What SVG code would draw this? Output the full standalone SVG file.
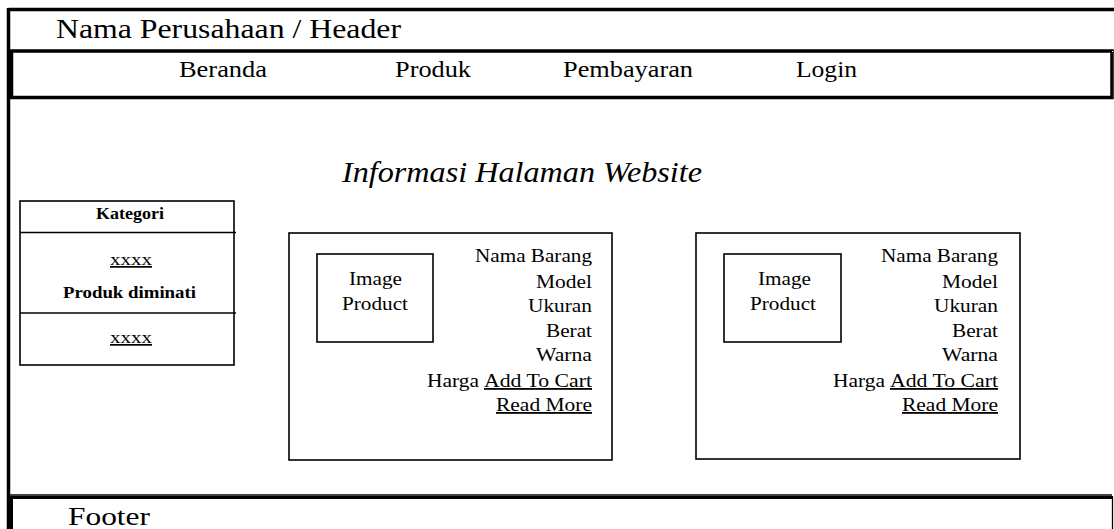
<svg xmlns="http://www.w3.org/2000/svg" width="1114" height="529" viewBox="0 0 1114 529">
<style>
text{font-family:"Times New Roman","Liberation Serif",Times,serif;fill:#000}
.box{fill:none;stroke:#000;stroke-width:1.6}
.u{text-decoration:underline}
</style>
<rect width="1114" height="529" fill="#fff"/>
<g id="frame">
<line x1="8.5" y1="9.5" x2="1114" y2="9.5" stroke="#000" stroke-width="3.5"/>
<line x1="8.5" y1="8" x2="8.5" y2="529" stroke="#000" stroke-width="3.5"/>
<line x1="8.5" y1="495" x2="1112" y2="495" stroke="#000" stroke-width="1.5"/>
</g>
<g id="header">
<text x="56" y="38" font-size="27" textLength="345" lengthAdjust="spacingAndGlyphs">Nama Perusahaan / Header</text>
</g>
<g id="nav">
<rect x="11.5" y="51" width="1100.5" height="46.5" fill="none" stroke="#000" stroke-width="3.5"/>
<line x1="1112.5" y1="51" x2="1112.5" y2="97" stroke="#fff" stroke-width="1"/>
<line x1="1112.3" y1="52" x2="1112.3" y2="97" stroke="#000" stroke-width="1.3"/>
<text x="179" y="77" font-size="23.5" textLength="88" lengthAdjust="spacingAndGlyphs">Beranda</text>
<text x="395" y="77" font-size="23.5" textLength="76" lengthAdjust="spacingAndGlyphs">Produk</text>
<text x="563" y="77" font-size="23.5" textLength="130" lengthAdjust="spacingAndGlyphs">Pembayaran</text>
<text x="796" y="77" font-size="23.5" textLength="61" lengthAdjust="spacingAndGlyphs">Login</text>
</g>
<g id="title">
<text x="342" y="182" font-size="29" font-style="italic" textLength="360" lengthAdjust="spacingAndGlyphs">Informasi Halaman Website</text>
</g>
<g id="kategori">
<rect class="box" x="20" y="201" width="214" height="164"/>
<line x1="20" y1="232.5" x2="236" y2="232.5" stroke="#000" stroke-width="1.6"/>
<line x1="20" y1="313" x2="236" y2="313" stroke="#000" stroke-width="1.6"/>
<text x="96" y="219" font-size="17" font-weight="bold" textLength="68" lengthAdjust="spacingAndGlyphs">Kategori</text>
<text class="u" x="110" y="265" font-size="17" textLength="42" lengthAdjust="spacingAndGlyphs">xxxx</text>
<text x="63" y="298" font-size="17" font-weight="bold" textLength="133" lengthAdjust="spacingAndGlyphs">Produk diminati</text>
<text class="u" x="110" y="343" font-size="17" textLength="42" lengthAdjust="spacingAndGlyphs">xxxx</text>
</g>
<g id="card1">
<rect class="box" x="289" y="233" width="323" height="227"/>
<rect class="box" x="317" y="254" width="116" height="88"/>
<text x="349" y="285" font-size="18" textLength="53" lengthAdjust="spacingAndGlyphs">Image</text>
<text x="342" y="310" font-size="18" textLength="66" lengthAdjust="spacingAndGlyphs">Product</text>
<text x="475" y="262" font-size="18" textLength="117" lengthAdjust="spacingAndGlyphs">Nama Barang</text>
<text x="536" y="288" font-size="18" textLength="56" lengthAdjust="spacingAndGlyphs">Model</text>
<text x="528" y="312" font-size="18" textLength="64" lengthAdjust="spacingAndGlyphs">Ukuran</text>
<text x="546" y="337" font-size="18" textLength="46" lengthAdjust="spacingAndGlyphs">Berat</text>
<text x="536" y="361" font-size="18" textLength="56" lengthAdjust="spacingAndGlyphs">Warna</text>
<text x="427" y="387" font-size="18" textLength="52" lengthAdjust="spacingAndGlyphs">Harga</text>
<text class="u" x="484" y="387" font-size="18" textLength="108" lengthAdjust="spacingAndGlyphs">Add To Cart</text>
<text class="u" x="496" y="411" font-size="18" textLength="96" lengthAdjust="spacingAndGlyphs">Read More</text>
</g>
<g id="card2">
<rect class="box" x="696" y="233" width="324" height="226"/>
<rect class="box" x="724" y="254" width="117" height="88"/>
<text x="758" y="285" font-size="18" textLength="53" lengthAdjust="spacingAndGlyphs">Image</text>
<text x="750" y="310" font-size="18" textLength="66" lengthAdjust="spacingAndGlyphs">Product</text>
<text x="881" y="262" font-size="18" textLength="117" lengthAdjust="spacingAndGlyphs">Nama Barang</text>
<text x="942" y="288" font-size="18" textLength="56" lengthAdjust="spacingAndGlyphs">Model</text>
<text x="934" y="312" font-size="18" textLength="64" lengthAdjust="spacingAndGlyphs">Ukuran</text>
<text x="952" y="337" font-size="18" textLength="46" lengthAdjust="spacingAndGlyphs">Berat</text>
<text x="942" y="361" font-size="18" textLength="56" lengthAdjust="spacingAndGlyphs">Warna</text>
<text x="833" y="387" font-size="18" textLength="52" lengthAdjust="spacingAndGlyphs">Harga</text>
<text class="u" x="890" y="387" font-size="18" textLength="108" lengthAdjust="spacingAndGlyphs">Add To Cart</text>
<text class="u" x="902" y="411" font-size="18" textLength="96" lengthAdjust="spacingAndGlyphs">Read More</text>
</g>
<g id="footer">
<line x1="11" y1="497.5" x2="1113" y2="497.5" stroke="#000" stroke-width="3"/>
<line x1="11.5" y1="496" x2="11.5" y2="529" stroke="#000" stroke-width="3"/>
<line x1="1112.5" y1="497" x2="1112.5" y2="529" stroke="#000" stroke-width="1.3"/>
<text x="68" y="525" font-size="26" textLength="82" lengthAdjust="spacingAndGlyphs">Footer</text>
</g>
</svg>
